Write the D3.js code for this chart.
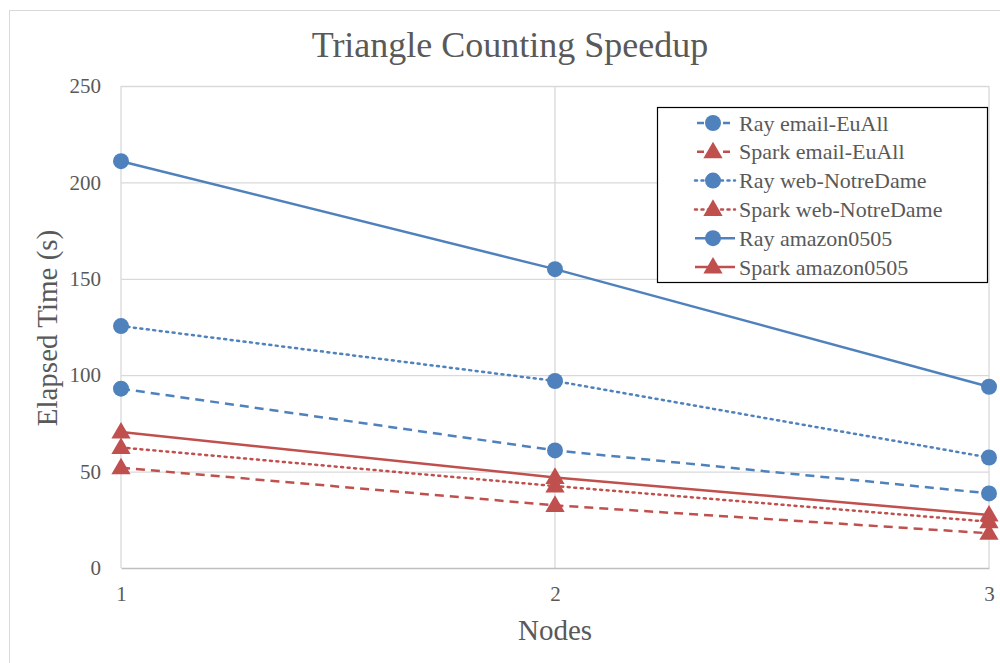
<!DOCTYPE html>
<html lang="en">
<head>
    <meta charset="UTF-8">
    <script src="https://d3js.org/d3.v7.min.js"></script>
    <title>Triangle Counting Speedup</title>
    <style>
        body { margin: 0; background: #fff; }
        text { font-family: "Liberation Serif", "Times New Roman", serif; fill: #595959; }
    </style>
</head>
<body>
<div id="Area"></div>
<script>
    // data
    const nodes = [1, 2, 3];
    const yTicks = [0, 50, 100, 150, 200, 250];
    const seriesNames = ["Ray email-EuAll", "Spark email-EuAll", "Ray web-NotreDame",
                         "Spark web-NotreDame", "Ray amazon0505", "Spark amazon0505"];
    const rayEmail = [93, 61, 38.7];
    const sparkEmail = [52, 32.5, 18];
    const rayWeb = [125.5, 97, 57.3];
    const sparkWeb = [62.5, 42.5, 24];
    const rayAmazon = [211, 155, 94];
    const sparkAmazon = [70.5, 47, 27.5];

    const blue = "#4F81BD", red = "#C0504D";
    const series = [
        { name: seriesNames[0], values: rayEmail, color: blue, marker: "circle", dash: "9,6" },
        { name: seriesNames[1], values: sparkEmail, color: red, marker: "triangle", dash: "9,6" },
        { name: seriesNames[2], values: rayWeb, color: blue, marker: "circle", dash: "2,4.5" },
        { name: seriesNames[3], values: sparkWeb, color: red, marker: "triangle", dash: "2,4.5" },
        { name: seriesNames[4], values: rayAmazon, color: blue, marker: "circle", dash: null },
        { name: seriesNames[5], values: sparkAmazon, color: red, marker: "triangle", dash: null }
    ];

    const W = 1000, H = 663;
    const margin = {top: 86, right: 11, bottom: 95, left: 121};
    const width = W - margin.left - margin.right;
    const height = H - margin.top - margin.bottom;

    const svg = d3.select("#Area").append("svg")
        .attr("width", W).attr("height", H);

    // outer chart border
    svg.append("rect")
        .attr("x", 9.5).attr("y", 10.5)
        .attr("width", W + 20).attr("height", H + 20)
        .attr("fill", "none").attr("stroke", "#D9D9D9");

    const g = svg.append("g")
        .attr("transform", "translate(" + margin.left + "," + margin.top + ")");

    const x = d3.scaleLinear().domain([1, 3]).range([0, width]);
    const y = d3.scaleLinear().domain([0, 250]).range([height, 0]);

    // gridlines
    g.append("g").selectAll("line").data(yTicks.filter(d => d > 0)).enter().append("line")
        .attr("x1", 0).attr("x2", width)
        .attr("y1", d => y(d) + 0.5).attr("y2", d => y(d) + 0.5)
        .attr("stroke", "#D9D9D9").attr("stroke-width", 1.3);
    g.append("g").selectAll("line").data(nodes).enter().append("line")
        .attr("x1", d => x(d)).attr("x2", d => x(d))
        .attr("y1", 0).attr("y2", height)
        .attr("stroke", "#D9D9D9").attr("stroke-width", 1.3);

    // axes
    const yAxis = g.append("g")
        .call(d3.axisLeft(y).tickValues(yTicks).tickSize(0).tickPadding(20));
    yAxis.select(".domain").remove();
    yAxis.selectAll("text").style("font-size", "21px")
        .attr("font-family", null).attr("fill", "#595959");

    const xAxis = g.append("g")
        .attr("transform", "translate(0," + height + ")")
        .call(d3.axisBottom(x).tickValues(nodes).tickFormat(d3.format("d")).tickSize(0).tickPadding(18));
    xAxis.select(".domain").attr("stroke", "#BFBFBF").attr("stroke-width", 1.5);
    xAxis.selectAll("text").style("font-size", "21px")
        .attr("font-family", null).attr("fill", "#595959");

    // lines
    const line = d3.line().x((d, i) => x(nodes[i])).y(d => y(d));
    const tri = d3.symbol().type(d3.symbolTriangle).size(160);

    function drawMarker(sel, s, cx, cy) {
        if (s.marker === "circle") {
            sel.append("circle").attr("cx", cx).attr("cy", cy).attr("r", 8)
                .attr("fill", s.color);
        } else {
            sel.append("path").attr("d", tri)
                .attr("transform", "translate(" + cx + "," + (cy + 1) + ")")
                .attr("fill", s.color);
        }
    }

    series.forEach(s => {
        g.append("path").datum(s.values)
            .attr("d", line)
            .attr("fill", "none")
            .attr("stroke", s.color)
            .attr("stroke-width", 2.5)
            .attr("stroke-dasharray", s.dash)
            .attr("stroke-linecap", s.dash === "2,4.5" ? "round" : "butt");
    });
    series.forEach(s => {
        const mg = g.append("g");
        s.values.forEach((v, i) => drawMarker(mg, s, x(nodes[i]), y(v)));
    });

    // title
    svg.append("text")
        .attr("x", 510).attr("y", 57)
        .attr("text-anchor", "middle")
        .style("font-size", "36px")
        .text("Triangle Counting Speedup");

    // axis titles
    svg.append("text")
        .attr("transform", "translate(57,328) rotate(-90)")
        .attr("text-anchor", "middle")
        .style("font-size", "29px")
        .text("Elapsed Time (s)");
    svg.append("text")
        .attr("x", margin.left + width / 2).attr("y", 640)
        .attr("text-anchor", "middle")
        .style("font-size", "29px")
        .text("Nodes");

    // legend
    const legend = svg.append("g");
    legend.append("rect")
        .attr("x", 657.5).attr("y", 107.5)
        .attr("width", 330).attr("height", 175)
        .attr("fill", "#fff").attr("stroke", "#000").attr("stroke-width", 1.2);
    series.forEach((s, i) => {
        const cy = 123 + i * 28.8;
        const row = legend.append("g");
        row.append("line")
            .attr("x1", 695).attr("x2", 735).attr("y1", cy).attr("y2", cy)
            .attr("stroke", s.color).attr("stroke-width", 2.5)
            .attr("stroke-dasharray", s.dash === "9,6" ? "7,6" : s.dash)
            .attr("stroke-dashoffset", s.dash === "9,6" ? -2 : 0)
            .attr("stroke-linecap", s.dash === "2,4.5" ? "round" : "butt");
        drawMarker(row, s, 713, cy);
        row.append("text")
            .attr("x", 739).attr("y", cy + 7.5)
            .style("font-size", "22px")
            .text(s.name);
    });
</script>
</body>
</html>
